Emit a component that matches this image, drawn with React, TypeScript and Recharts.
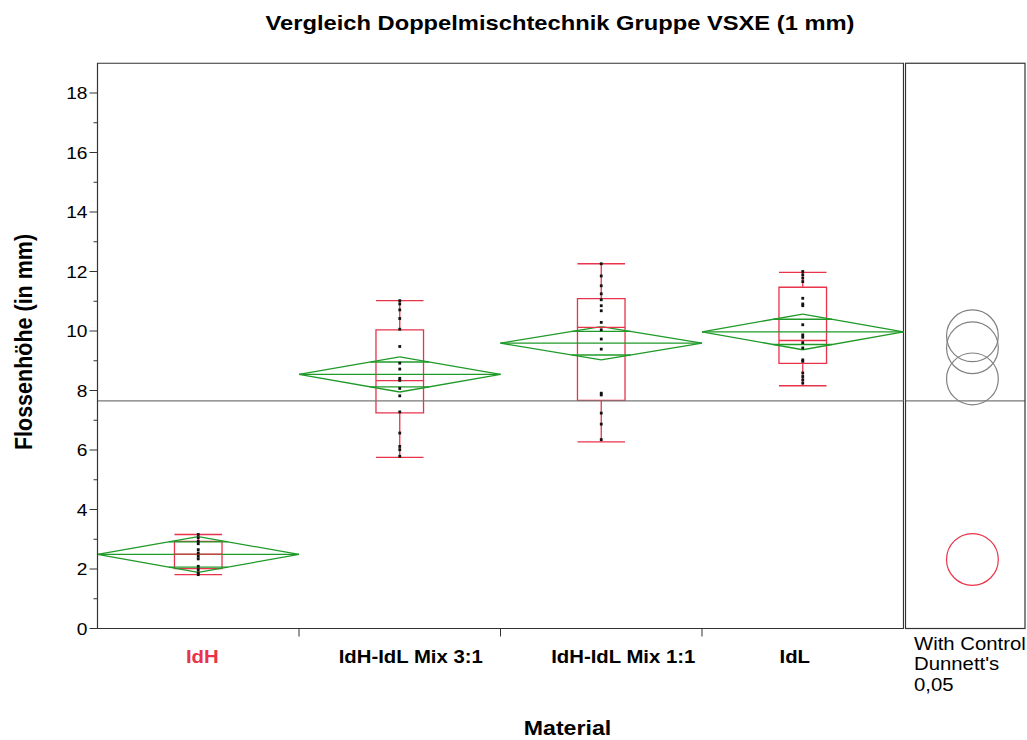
import React from 'react';
import {
  ComposedChart,
  XAxis,
  YAxis,
  Scatter,
  ReferenceLine,
  ReferenceArea,
} from 'recharts';

// groups of the one-way analysis
const categories = ['IdH', 'IdH-IdL Mix 3:1', 'IdH-IdL Mix 1:1', 'IdL'];

// mean diamonds (mean and 95% CI half width)
const means = [2.49, 8.54, 9.59, 9.97];
const ciHalf = [0.6, 0.59, 0.56, 0.6];

// box plots
const whiskerLow = [1.81, 5.75, 6.27, 8.16];
const q1 = [2.01, 7.25, 7.67, 8.91];
const medians = [2.5, 8.33, 10.12, 9.68];
const q3 = [2.93, 10.04, 11.09, 11.47];
const whiskerHigh = [3.16, 11.02, 12.26, 11.97];

// raw measurements per group
const idhValues = [3.16, 3.05, 2.93, 2.85, 2.65, 2.54, 2.43, 2.34, 2.09, 1.98, 1.87, 1.81];
const mix31Values = [11.02, 10.91, 10.71, 10.42, 10.06, 9.48, 8.92, 8.72, 8.41, 8.34, 8.07, 7.82, 7.28, 6.57, 6.12, 6.01, 5.79];
const mix11Values = [12.26, 11.85, 11.52, 11.25, 11.05, 10.85, 10.68, 10.29, 10.04, 9.73, 9.39, 7.91, 7.85, 7.24, 6.87, 6.35];
const idlValues = [12.0, 11.89, 11.78, 11.66, 11.1, 10.91, 10.85, 10.21, 9.87, 9.79, 9.61, 9.43, 9.03, 8.98, 8.59, 8.47, 8.36, 8.25];
const groupValues = [idhValues, mix31Values, mix11Values, idlValues];

const grandMean = 7.65;

// Dunnett comparison circles (centre, radius in mm)
const circleCenters = [2.32, 8.39, 9.44, 9.84];
const circleRadius = 0.87;

const yTicks = [0, 1, 2, 3, 4, 5, 6, 7, 8, 9, 10, 11, 12, 13, 14, 15, 16, 17, 18];
const xTicks = [0.5, 1, 1.5, 2, 2.5, 3, 3.5];
const Y_MAX = 19;

const RED = '#e8334a';
const GREEN = '#1f9a28';
const FRAME = '#333';
const FONT = '"Liberation Sans", Arial, sans-serif';
const SX = 1.13; // text is drawn slightly wider than tall

const TOP = 63.25;
const BOTTOM_AXIS_Y = 628.5;
const CHART_H = 740;
const PLOT_H = BOTTOM_AXIS_Y - TOP;

const BOX_HALF = 0.118;
const OVERLAP_HALF = 0.146;
const CIRCLE_X = 0.56;

// horizontal nudge of each category label, px
const LABEL_SHIFT = [4, 11, 22, -8];

const PANEL_LEFT = 905;
const PANEL_W = 121;

const pointData = groupValues.map((vals, i) => vals.map((y) => ({ x: i + 0.5, y })));
const circleData = circleCenters.map((y, i) => ({ x: CIRCLE_X, y, group: categories[i] }));

const seg = (x1: number, y1: number, x2: number, y2: number) => [
  { x: x1, y: y1 },
  { x: x2, y: y2 },
];

const XTick = (props: any) => {
  const { x, y, payload } = props;
  const v = payload.value;
  if (Number.isInteger(v)) {
    return <line x1={x} x2={x} y1={y} y2={y + 8} stroke={FRAME} strokeWidth={1} />;
  }
  const i = Math.floor(v);
  return (
    <g transform={`translate(${x + LABEL_SHIFT[i]},${y + 34.5}) scale(${SX},1)`}>
      <text textAnchor="middle" fontFamily={FONT} fontWeight="bold" fontSize={18} fill={i === 0 ? RED : '#000'}>
        {categories[i]}
      </text>
    </g>
  );
};

const YTick = (props: any) => {
  const { x, y, payload } = props;
  const v = payload.value;
  const major = v % 2 === 0;
  return (
    <g>
      <line x1={x - (major ? 8 : 4)} x2={x} y1={y} y2={y} stroke={FRAME} strokeWidth={1} />
      {major && (
        <g transform={`translate(${x - 10},${y}) scale(${SX},1)`}>
          <text textAnchor="end" dy="0.36em" fontFamily={FONT} fontSize={17} fill="#000">
            {v}
          </text>
        </g>
      )}
    </g>
  );
};

const PointShape = (props: any) => {
  const { cx, cy } = props;
  return <rect x={cx - 1.4} y={cy - 1.4} width={2.8} height={2.8} fill="#111" />;
};

const rPx = (circleRadius * PLOT_H) / Y_MAX;

const CircleShape = (props: any) => {
  const { cx, cy, payload } = props;
  return (
    <circle cx={cx} cy={cy} r={rPx} fill="none" stroke={payload.group === 'IdH' ? RED : '#808080'} strokeWidth={1.2} />
  );
};

function groupMarks(i: number) {
  const c = i + 0.5;
  const m = means[i];
  const h = ciHalf[i];
  const o = h / Math.SQRT2;
  const lines: any[] = [
    // mean diamond
    seg(i, m, c, m + h),
    seg(c, m + h, i + 1, m),
    seg(i + 1, m, c, m - h),
    seg(c, m - h, i, m),
    seg(i, m, i + 1, m),
    // overlap marks
    seg(c - OVERLAP_HALF, m + o, c + OVERLAP_HALF, m + o),
    seg(c - OVERLAP_HALF, m - o, c + OVERLAP_HALF, m - o),
  ];
  const box: any[] = [
    seg(c, q3[i], c, whiskerHigh[i]),
    seg(c, q1[i], c, whiskerLow[i]),
    seg(c - BOX_HALF, whiskerHigh[i], c + BOX_HALF, whiskerHigh[i]),
    seg(c - BOX_HALF, whiskerLow[i], c + BOX_HALF, whiskerLow[i]),
    seg(c - BOX_HALF, medians[i], c + BOX_HALF, medians[i]),
  ];
  return [
    ...lines.map((s, k) => (
      <ReferenceLine key={`d${i}-${k}`} segment={s} stroke={GREEN} strokeWidth={1.3} ifOverflow="visible" />
    )),
    <ReferenceArea
      key={`b${i}`}
      x1={c - BOX_HALF}
      x2={c + BOX_HALF}
      y1={q1[i]}
      y2={q3[i]}
      fill="none"
      fillOpacity={0}
      stroke={RED}
      strokeWidth={1.3}
      ifOverflow="visible"
    />,
    ...box.map((s, k) => (
      <ReferenceLine key={`w${i}-${k}`} segment={s} stroke={RED} strokeWidth={1.3} ifOverflow="visible" />
    )),
  ];
}

export default function App() {
  return (
    <div style={{ position: 'absolute', left: 0, top: 0, width: 1027, height: CHART_H, background: '#fff' }}>
      <div style={{ position: 'absolute', left: 0, top: 0 }}>
        <ComposedChart
          width={904}
          height={CHART_H}
          margin={{ top: TOP, right: 0.5, left: 37.5, bottom: CHART_H - BOTTOM_AXIS_Y - 30 }}
        >
          <XAxis
            dataKey="x"
            type="number"
            domain={[0, 4]}
            ticks={xTicks}
            interval={0}
            height={30}
            tickSize={0}
            tickMargin={0}
            tickLine={false}
            axisLine={{ stroke: FRAME }}
            tick={<XTick />}
          />
          <YAxis
            dataKey="y"
            type="number"
            domain={[0, Y_MAX]}
            ticks={yTicks}
            interval={0}
            width={60}
            tickSize={0}
            tickMargin={0}
            tickLine={false}
            axisLine={{ stroke: FRAME }}
            tick={<YTick />}
          />
          <ReferenceArea x1={0} x2={4} y1={0} y2={Y_MAX} fill="none" fillOpacity={0} stroke={FRAME} strokeWidth={1.2} ifOverflow="visible" />
          <ReferenceLine y={grandMean} stroke="#777" strokeWidth={1.2} />
          {categories.map((_, i) => groupMarks(i))}
          {pointData.map((d, i) => (
            <Scatter key={`p${i}`} data={d} dataKey="y" shape={<PointShape />} isAnimationActive={false} />
          ))}
        </ComposedChart>
      </div>

      <div style={{ position: 'absolute', left: PANEL_LEFT, top: 0 }}>
        <ComposedChart
          width={PANEL_W}
          height={CHART_H}
          margin={{ top: TOP, right: 1, left: 0.5, bottom: CHART_H - BOTTOM_AXIS_Y }}
        >
          <XAxis dataKey="x" type="number" domain={[0, 1]} hide />
          <YAxis dataKey="y" type="number" domain={[0, Y_MAX]} hide />
          <ReferenceLine y={grandMean} stroke="#777" strokeWidth={1.2} />
          <Scatter data={circleData} dataKey="y" shape={<CircleShape />} isAnimationActive={false} />
        </ComposedChart>
      </div>

      <svg
        width={1027}
        height={CHART_H}
        style={{ position: 'absolute', left: 0, top: 0, pointerEvents: 'none' }}
        fontFamily={FONT}
      >
        {/* frame of the comparison-circle panel */}
        <rect
          x={PANEL_LEFT + 0.5}
          y={TOP}
          width={PANEL_W - 1.5}
          height={PLOT_H}
          fill="none"
          stroke={FRAME}
          strokeWidth={1.2}
        />
        <g transform={`translate(560,30) scale(${SX},1)`}>
          <text textAnchor="middle" fontWeight="bold" fontSize={21} fill="#000">
            Vergleich Doppelmischtechnik Gruppe VSXE (1 mm)
          </text>
        </g>
        <g transform={`translate(567.5,735) scale(${SX},1)`}>
          <text textAnchor="middle" fontWeight="bold" fontSize={20.5} fill="#000">
            Material
          </text>
        </g>
        <g transform={`translate(31.5,342) scale(${SX},1) rotate(-90)`}>
          <text textAnchor="middle" fontWeight="bold" fontSize={21.5} fill="#000">
            Flossenhöhe (in mm)
          </text>
        </g>
        <g transform={`translate(914,650) scale(${SX},1)`}>
          <text fontSize={18} fill="#000">
            <tspan x={0} y={0}>With Control</tspan>
            <tspan x={0} y={20}>Dunnett's</tspan>
            <tspan x={0} y={41}>0,05</tspan>
          </text>
        </g>
      </svg>
    </div>
  );
}
